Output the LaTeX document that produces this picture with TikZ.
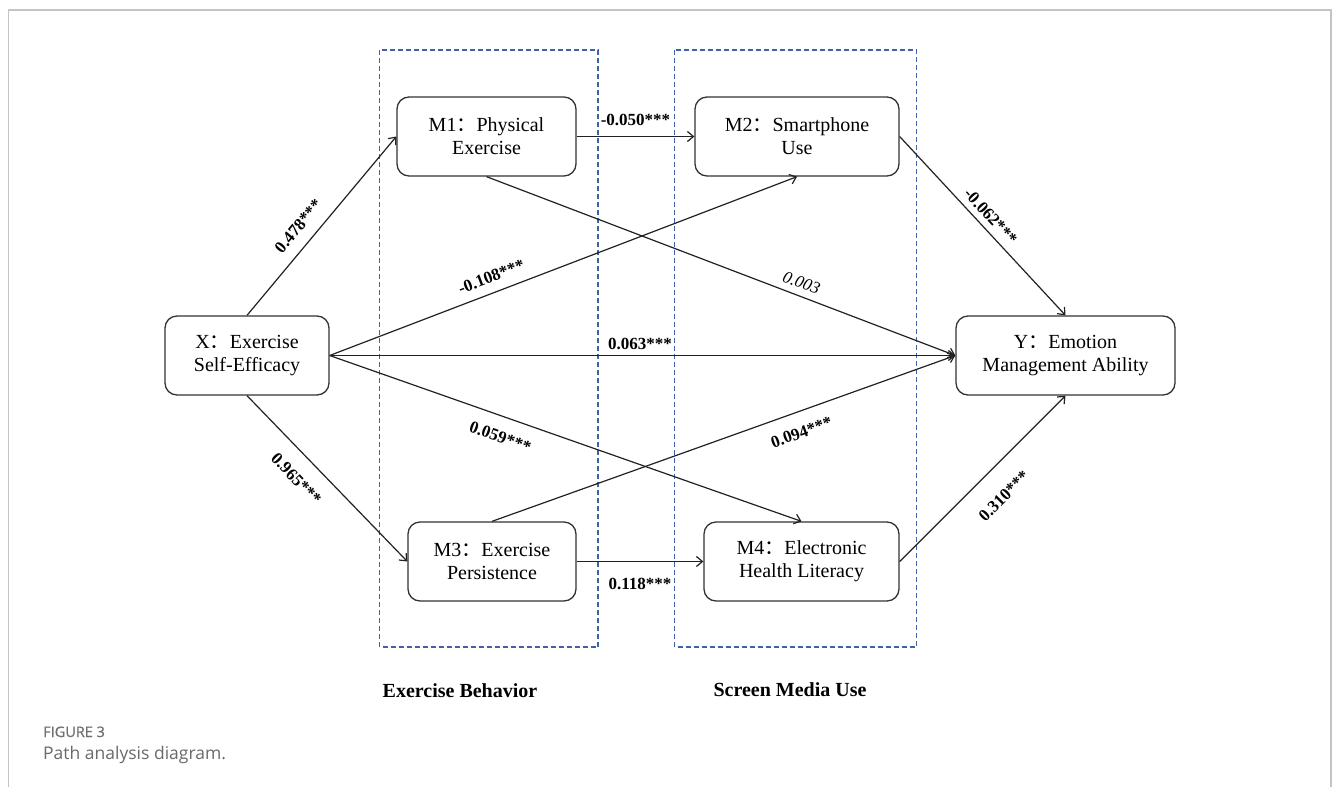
\documentclass[tikz,border=0pt]{standalone}
\usepackage{fontspec}
\setmainfont{Liberation Serif}
\newfontfamily\cjk{Noto Sans CJK SC}
\newfontfamily\capfont{Open Sans}
\newfontfamily\capfontb[FakeBold=0.8]{Open Sans}
\usetikzlibrary{arrows.meta}
\definecolor{linec}{HTML}{222222}
\definecolor{boxc}{HTML}{333333}
\definecolor{dashc}{HTML}{3F62AA}
\definecolor{framec}{HTML}{C4C4C4}
\definecolor{capa}{HTML}{707070}
\definecolor{capb}{HTML}{6A6A6A}
\newcommand{\fc}{{\cjk ：}}
\begin{document}
\begin{tikzpicture}[x=1pt,y=-1pt,
  varbox/.style={draw=boxc, line width=1.3pt, rounded corners=12pt, fill=white,
    inner sep=0pt, minimum height=79pt, align=center,
    font=\fontsize{20}{23}\selectfont},
  arr/.style={draw=linec, line width=1.2pt, -{Straight Barb[length=6pt,width=10pt]}},
  lbl/.style={font=\fontsize{17}{20}\selectfont\bfseries, inner sep=3pt, text=black},
  lbli/.style={font=\fontsize{17}{20}\selectfont\itshape, inner sep=3pt, text=black},
  grp/.style={draw=dashc, line width=1.1pt, dash pattern=on 5pt off 3pt},
  grplbl/.style={font=\fontsize{20}{23}\selectfont\bfseries, anchor=base}
]
\useasboundingbox (0,0) rectangle (1335,787);
\fill[white] (0,0) rectangle (1335,787);
% frame
\draw[framec, line width=1.5pt] (8.5,787) -- (8.5,10) -- (1331,10) -- (1331,787);
% group boxes
\draw[grp] (379.5,50) rectangle (598,647);
\draw[grp] (674.5,50) rectangle (916.5,647);
\node[grplbl] (gEB) at (460,697) {Exercise Behavior};
\node[grplbl] (gSM) at (790,696) {Screen Media Use};
% variable boxes
\node[varbox, minimum width=164pt] (X) at (247,355.5) {X\fc Exercise\\Self-Efficacy};
\node[varbox, minimum width=179pt] (M1) at (486.5,136.5) {M1\fc Physical\\Exercise};
\node[varbox, minimum width=204pt] (M2) at (797,136.5) {M2\fc Smartphone\\Use};
\node[varbox, minimum width=168pt] (M3) at (492,561.5) {M3\fc Exercise\\Persistence};
\node[varbox, minimum width=195pt] (M4) at (801.5,561.5) {M4\fc Electronic\\Health Literacy};
\node[varbox, minimum width=219pt] (Y) at (1065.5,355.5) {Y\fc Emotion\\Management Ability};
% paths
\draw[arr] (X.north) -- node[lbl, sloped, pos=0.435, above=8.3pt] {0.478***} (M1.west);
\draw[arr] (X.east) -- node[lbl, sloped, pos=0.358, above=6.4pt] {-0.108***} (M2.south);
\draw[arr] (X.east) -- node[lbl, pos=0.496, above=2.6pt] {0.063***} (Y.west);
\draw[arr] (X.east) -- node[lbl, sloped, pos=0.376, below=11pt] {0.059***} (M4.north);
\draw[arr] (X.south) -- node[lbl, sloped, pos=0.408, below=13pt] {0.965***} (M3.west);
\draw[arr] (M1.east) -- node[lbl, pos=0.5, above=7.6pt] {-0.050***} (M2.west);
\draw[arr] (M1.south) -- node[lbli, sloped, pos=0.662, above=3.8pt] {0.003} (Y.west);
\draw[arr] (M2.east) -- node[lbl, sloped, pos=0.494, above=3pt] {-0.062***} (Y.north);
\draw[arr] (M3.north) -- node[lbl, sloped, pos=0.653, below=11pt] {0.094***} (Y.west);
\draw[arr] (M3.east) -- node[lbl, pos=0.5, below=13pt] {0.118***} (M4.west);
\draw[arr] (M4.east) -- node[lbl, sloped, pos=0.512, below=18pt] {0.310***} (Y.south);
% caption
\node[anchor=base west, inner sep=0pt, text=capa, font=\capfontb\fontsize{14.5}{16}\selectfont] (cap1) at (43,737) {FIGURE 3};
\node[anchor=base west, inner sep=0pt, text=capb, font=\capfont\fontsize{17.5}{20}\selectfont] (cap2) at (43,759) {Path analysis diagram.};
\end{tikzpicture}
\end{document}
